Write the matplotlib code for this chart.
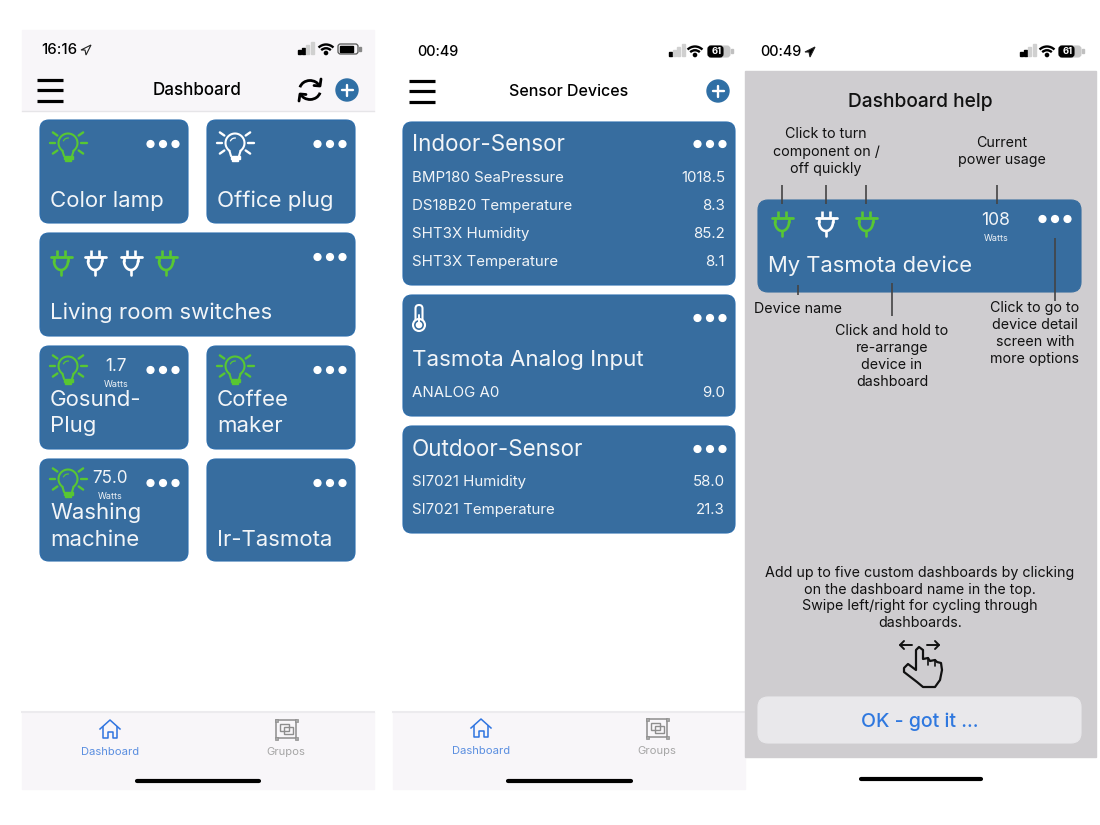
import numpy as np
import matplotlib
matplotlib.use("Agg")
import matplotlib.pyplot as plt
from matplotlib.patches import FancyBboxPatch, Rectangle, Circle, Arc, Polygon

plt.rcParams['font.family'] = ['Inter', 'DejaVu Sans']

# texts of the first screen
dash_tiles = ["Color lamp", "Office plug", "Living room switches", "Gosund-\nPlug", "Coffee\nmaker",
              "Washing\nmachine", "Ir-Tasmota"]
dash_watts = ["1.7", "75.0"]
dash_tabs = ["Dashboard", "Grupos"]

# second screen
indoor_names = ["BMP180 SeaPressure", "DS18B20 Temperature", "SHT3X Humidity", "SHT3X Temperature"]
indoor_values = ["1018.5", "8.3", "85.2", "8.1"]
analog_names = ["ANALOG A0"]
analog_values = ["9.0"]
outdoor_names = ["SI7021 Humidity", "SI7021 Temperature"]
outdoor_values = ["58.0", "21.3"]
sensor_tabs = ["Dashboard", "Groups"]

# third screen
help_notes = ["Click to turn\ncomponent on /\noff quickly", "Current\npower usage", "Device name",
              "Click and hold to\nre-arrange\ndevice in\ndashboard",
              "Click to go to\ndevice detail\nscreen with\nmore options"]
help_text = ("Add up to five custom dashboards by clicking\non the dashboard name in the top.\n"
             "Swipe left/right for cycling through\ndashboards.")

BLUE = '#376d9f'
EDGE = '#2b6cab'
GREEN = '#58c732'
TXT = '#f2f5f8'
BAR = '#f8f6f9'
GREY = '#cfcdd0'

fig = plt.figure(figsize=(11, 8.25), dpi=100)
ax = fig.add_axes([0, 0, 1, 1])
ax.set_xlim(0, 1100)
ax.set_ylim(825, 0)
ax.axis('off')


def box(x0, y0, x1, y1, r=9, color=BLUE, edge=None, z=2):
    ax.add_patch(FancyBboxPatch((x0, y0), x1 - x0, y1 - y0, boxstyle=f"round,pad=0,rounding_size={r}",
                                fc=color, ec=edge or color, lw=0.8, zorder=z))


def label(x, y, s, px, color=TXT, ha='left', va='center', weight='normal', ls=1.2):
    ax.text(x, y + px * 0.07, s, fontsize=px * 0.72, color=color, ha=ha, va=va, fontweight=weight,
            linespacing=ls, zorder=5)


def dots(xc, y):
    for dx in (-12.5, 0, 12.5):
        ax.add_patch(Circle((xc + dx, y), 3.4, color='white', zorder=5))


def line(xs, ys, color, lw=1.5, cap='round'):
    ax.plot(xs, ys, color=color, lw=lw, solid_capstyle=cap, zorder=5)


def bulb(x, y, color):
    # x, y is a bit under the centre of the glass
    t = np.radians(np.linspace(125, 415, 40))
    line(x + 9.5 * np.cos(t), y - 3 + 9.5 * np.sin(t), color, 1.5)
    line([x - 5.5, x - 4], [y + 5, y + 10], color, 1.5)
    line([x + 5.5, x + 4], [y + 5, y + 10], color, 1.5)
    ax.add_patch(Rectangle((x - 4.5, y + 10), 9, 3, color=color, zorder=5))
    ax.add_patch(Rectangle((x - 3, y + 13), 6, 2, color=color, zorder=5))
    ax.add_patch(Arc((x, y - 3), 10, 10, theta1=200, theta2=280, color=color, lw=0.9, zorder=5))
    for a in (-145, 180, 145, -35, 0, 35):
        c, s = np.cos(np.radians(a)), np.sin(np.radians(a))
        line([x + 13 * c, x + 18.5 * c], [y - 3 + 13 * s, y - 3 + 18.5 * s], color, 1.7)


def plug(x, y, color):
    # x, y is the centre of the top bar
    line([x - 4, x - 4], [y - 7, y - 1], color, 1.9, 'butt')
    line([x + 4, x + 4], [y - 7, y - 1], color, 1.9, 'butt')
    line([x - 10.5, x + 10.5], [y, y], color, 2)
    t = np.radians(np.linspace(180, 0, 20))
    line(x + 7 * np.cos(t), y + 4 + 9 * np.sin(t), color, 1.9)
    line([x - 7, x - 7], [y, y + 4], color, 1.9)
    line([x + 7, x + 7], [y, y + 4], color, 1.9)
    line([x, x], [y + 13, y + 18], color, 1.9)


def hamburger(x0, x1, y):
    for dy in (-10.5, 0, 10.5):
        line([x0, x1], [y + dy, y + dy], 'black', 2.3, 'butt')


def plus_btn(x, y):
    ax.add_patch(Circle((x, y), 11, color='#2f6fa5', zorder=5))
    line([x - 5.5, x + 5.5], [y, y], 'white', 1.7)
    line([x, x], [y - 5.5, y + 5.5], 'white', 1.7)


def status_icons(xr, wx, bx, y, on_bars, battery_text=None):
    for i, h in enumerate([4, 6, 9, 12]):
        c = 'black' if i < on_bars else '#d0d0d0'
        ax.add_patch(Rectangle((xr + i * 4.2, y + 5 - h), 3, h, color=c, zorder=5))
    for d in (21, 13.5):
        ax.add_patch(Arc((wx, y + 6), d, d, theta1=225, theta2=315, color='black', lw=1.7, zorder=5))
    ax.add_patch(Circle((wx, y + 4), 1.6, color='black', zorder=5))
    if battery_text:
        box(bx, y - 5, bx + 22, y + 6, r=3, color='#c8c8c8', z=4)
        box(bx, y - 5, bx + 15, y + 6, r=3, color='black', z=4)
        label(bx + 9, y, battery_text, 9.5, 'white', ha='center', weight='bold')
        ax.add_patch(Rectangle((bx + 23, y - 2), 1.5, 4, color='#c0c0c0', zorder=5))
    else:
        ax.add_patch(FancyBboxPatch((bx, y - 5), 20, 10, boxstyle="round,pad=0,rounding_size=2.5", fc='none',
                                    ec='#555555', lw=0.9, zorder=5))
        ax.add_patch(Rectangle((bx + 2, y - 3), 13, 6, color='black', zorder=5))
        ax.add_patch(Rectangle((bx + 21, y - 2), 1.5, 4, color='#888888', zorder=5))


def loc_arrow(x, y, filled):
    ax.add_patch(Polygon([[x, y + 1], [x + 10, y - 4], [x + 5, y + 6], [x + 4, y + 1]], closed=True,
                         fc='black' if filled else 'none', ec='#222222', lw=0.8, zorder=5))


def tabbar(x_a, x_b, y_icon, y_text, names, x_home0, x_home1):
    # house
    cx, cy = x_a, y_icon
    ax.plot([cx - 10, cx, cx + 10], [cy - 1, cy - 10, cy - 1], color='#2f74e0', lw=1.1, zorder=5)
    ax.plot([cx - 7, cx - 7, cx - 2.5, cx - 2.5, cx + 2.5, cx + 2.5, cx + 7, cx + 7],
            [cy - 3, cy + 8, cy + 8, cy + 2, cy + 2, cy + 8, cy + 8, cy - 3], color='#2f74e0', lw=1.1, zorder=5)
    label(x_a, y_text, names[0], 11.2, '#5b8fe0', ha='center')
    # groups icon
    gx, gy = x_b, y_icon
    ax.add_patch(Rectangle((gx - 10, gy - 10), 20, 18, fc='none', ec='#8d8d8d', lw=1.1, zorder=5))
    for px_, py_ in ((-10, -10), (10, -10), (-10, 8), (10, 8)):
        ax.add_patch(Rectangle((gx + px_ - 1.5, gy + py_ - 1.5), 3, 3, fc='#a5a5a5', ec='#8d8d8d', lw=0.5, zorder=6))
    ax.add_patch(Rectangle((gx - 6.5, gy - 6.5), 9, 7, fc='none', ec='#8d8d8d', lw=1, zorder=5))
    ax.add_patch(Rectangle((gx - 2.5, gy - 3), 9, 7, fc='none', ec='#8d8d8d', lw=1, zorder=5))
    label(x_b, y_text, names[1], 11.2, '#a6a6a6', ha='center')
    line([x_home0 + 1.5, x_home1 - 1.5], [781, 781], 'black', 3)


# ---------- screen 1 ----------
ax.add_patch(Rectangle((22, 30), 352, 80, color=BAR, zorder=1))
ax.plot([22, 374], [110.5, 110.5], color='#e6e5e8', lw=1, zorder=1)
ax.add_patch(Rectangle((22, 712), 352, 77, color=BAR, zorder=1))
ax.plot([22, 374], [712, 712], color='#ecebee', lw=1.5, zorder=1)
label(41, 49, "16:16", 15, 'black', weight='medium')
loc_arrow(81, 49, False)
status_icons(298, 326, 338, 49, 2)
hamburger(37, 63, 90)
label(197, 89.5, "Dashboard", 17, 'black', ha='center', weight='medium')
# refresh icon
ax.add_patch(Arc((310, 90), 21, 19, theta1=195, theta2=340, color='black', lw=2, zorder=5))
ax.add_patch(Arc((310, 90), 21, 19, theta1=15, theta2=160, color='black', lw=2, zorder=5))
line([321, 320, 314], [79, 86, 85.5], 'black', 2)
line([299, 300, 306], [101, 94, 94.5], 'black', 2)
plus_btn(347, 90)

tile_boxes = [(40, 120, 188, 223), (207, 120, 355, 223), (40, 233, 355, 336), (40, 346, 188, 449),
              (207, 346, 355, 449), (40, 459, 188, 561), (207, 459, 355, 561)]
tile_text_y = [199, 199, 311, 411.5, 411.5, 524.5, 538]
for (x0, y0, x1, y1), name, ty in zip(tile_boxes, dash_tiles, tile_text_y):
    box(x0, y0, x1, y1, edge=EDGE)
    label(x0 + 10, ty, name, 22.2, ls=1.42)
    dots(x1 - 25, y0 + 24)

bulb(68, 146, GREEN)
bulb(235, 146, 'white')
for px_, col in zip((61, 95, 131, 166), (GREEN, 'white', 'white', GREEN)):
    plug(px_, 257, col)
bulb(68, 369, GREEN)
bulb(235, 369, GREEN)
bulb(68, 482, GREEN)
label(116, 365, dash_watts[0], 17, ha='center')
label(116, 383.5, "Watts", 9, ha='center')
label(110, 477, dash_watts[1], 17, ha='center')
label(110, 496, "Watts", 9, ha='center')
tabbar(110, 286, 730, 751, dash_tabs, 135, 260)

# ---------- screen 2 ----------
ax.add_patch(Rectangle((393, 712), 352, 77, color=BAR, zorder=1))
ax.plot([393, 745], [712, 712], color='#ecebee', lw=1.5, zorder=1)
label(417, 51, "00:49", 14.5, 'black', weight='medium')
status_icons(669, 695, 708, 51, 1, "61")
hamburger(409, 435, 91)
label(569, 90.5, "Sensor Devices", 16, 'black', ha='center', weight='medium')
plus_btn(718, 91)

box(403, 122, 735, 285, edge=EDGE)
label(412, 143.5, "Indoor-Sensor", 22.4)
dots(710, 144)
for name, val, y in zip(indoor_names, indoor_values, (177, 205, 233, 261)):
    label(412, y, name, 15)
    label(725, y, val, 15, ha='right')

box(403, 295, 735, 416, edge=EDGE)
dots(710, 318)
label(412, 358, "Tasmota Analog Input", 22.3)
for name, val in zip(analog_names, analog_values):
    label(412, 392, name, 15)
    label(725, 392, val, 15, ha='right')
# thermometer
th_x, th_y = 419, 318
ax.add_patch(FancyBboxPatch((th_x - 3.5, th_y - 13), 7, 20, boxstyle="round,pad=0,rounding_size=3.5", fc='none',
                            ec='white', lw=1.5, zorder=5))
ax.add_patch(Circle((th_x, th_y + 7), 6, fc=BLUE, ec='white', lw=1.5, zorder=5))
ax.add_patch(Circle((th_x, th_y + 7), 2.6, color='white', zorder=6))
line([th_x, th_x], [th_y - 3, th_y + 5], 'white', 1.4)

box(403, 426, 735, 533, edge=EDGE)
label(412, 448.5, "Outdoor-Sensor", 22.4)
dots(710, 449)
for name, val, y in zip(outdoor_names, outdoor_values, (481, 509)):
    label(412, y, name, 15)
    label(725, y, val, 15, ha='right')
tabbar(481, 657, 729, 750, sensor_tabs, 506, 632)

# ---------- screen 3 ----------
ax.add_patch(Rectangle((745, 71), 351, 686, color=GREY, zorder=1))
label(760, 51, "00:49", 14.5, 'black', weight='medium')
loc_arrow(805, 51, True)
status_icons(1020, 1047, 1059, 51, 2, "61")
label(920, 100.5, "Dashboard help", 19.2, '#111111', ha='center', weight='medium')

box(758, 200, 1081, 292, r=10)
for px_, col in zip((782, 826, 866), (GREEN, 'white', GREEN)):
    plug(px_, 218, col)
label(996, 219, "108", 17.5, ha='center')
label(996, 237.5, "Watts", 9, ha='center')
dots(1055, 219)
label(768, 264, "My Tasmota device", 22)

NOTE = '#111111'
label(826, 150.5, help_notes[0], 14.3, NOTE, ha='center', ls=1.3)
label(1002, 150.5, help_notes[1], 14.3, NOTE, ha='center', ls=1.3)
label(798, 307.5, help_notes[2], 14.3, NOTE, ha='center')
label(892, 355.5, help_notes[3], 14.3, NOTE, ha='center', ls=1.3)
label(1035, 332.5, help_notes[4], 14.3, NOTE, ha='center', ls=1.3)
for x, y0, y1 in ((782, 185, 204), (826, 185, 204), (866, 185, 204), (997, 185, 204),
                  (798, 285, 295), (892, 283, 316), (1055, 238, 301)):
    line([x, x], [y0, y1], '#444444', 1.2, 'butt')

label(920, 597, help_text, 14.3, NOTE, ha='center', ls=1.25)
# swipe hand
line([900, 912], [645, 645], '#111111', 1.4)
line([927, 939], [645, 645], '#111111', 1.4)
line([904, 900, 904], [641, 645, 649], '#111111', 1.4)
line([935, 939, 935], [641, 645, 649], '#111111', 1.4)
hand_x = [904, 908, 916, 916, 919, 923, 923, 928, 930, 935, 937, 941, 942, 940, 935, 923, 917, 904]
hand_y = [668, 664, 670, 650, 647, 650, 659, 658, 661, 660, 662, 663, 670, 680, 687, 687, 682, 672]
ax.add_patch(Polygon(np.column_stack([hand_x, hand_y]), closed=True, fc=GREY, ec='#111111', lw=1.6,
                     joinstyle='round', zorder=5))
line([928, 928], [658, 665], '#111111', 1.2)
line([935, 935], [660, 666], '#111111', 1.2)

box(758, 697, 1081, 743, r=10, color='#e9e8eb')
label(920, 720, "OK - got it ...", 19.5, '#2f78df', ha='center', weight='medium')
line([860.5, 980.5], [779, 779], 'black', 3)

fig.savefig("out.png", dpi=100)
